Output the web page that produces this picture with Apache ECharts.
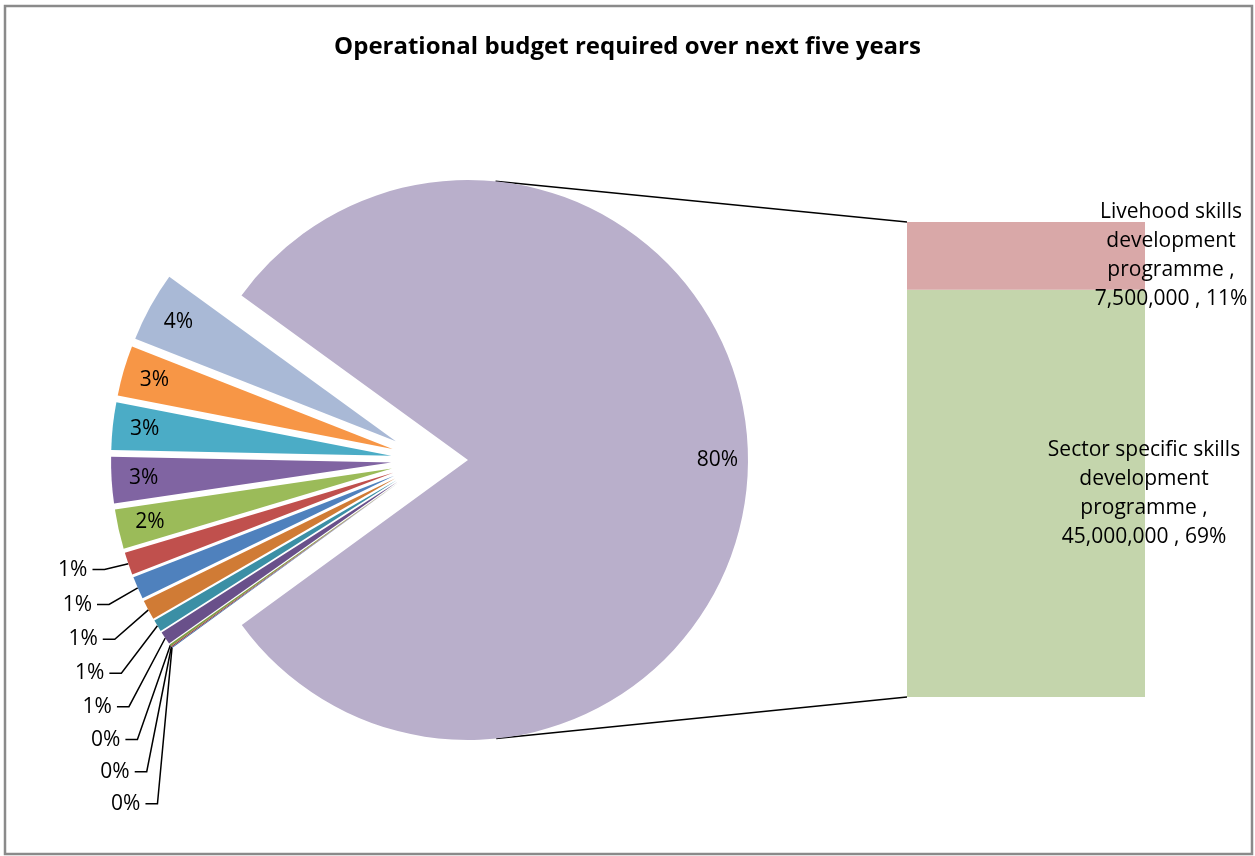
<!DOCTYPE html>
<html>
<head>
<meta charset="utf-8">
<script src="https://cdn.jsdelivr.net/npm/echarts@6/dist/echarts.min.js"></script>
<style>html,body{margin:0;padding:0;background:#fff}#main{width:1255px;height:856px}</style>
</head>
<body>
<div id="main"></div>
<script>
// ---- data ----
const titleText = 'Operational budget required over next five years';
const smallCats = ['Item 1','Item 2','Item 3','Item 4','Item 5','Item 6','Item 7','Item 8','Item 9','Item 10','Item 11','Item 12','Item 13'];
const smallValues = [2650000, 1900000, 1800000, 1750000, 1500000, 850000, 850000, 750000, 450000, 500000, 80000, 40000, 30000];
const otherName = 'Other';
const barCats = ['Sector specific skills development programme', 'Livehood skills development programme'];
const barValues = [45000000, 7500000];

// ---- styles / layout ----
const smallColors = ['#A9B9D6','#F79646','#4BACC6','#8064A2','#9BBB59','#C0504D','#4F81BD','#D07B35','#3B8FA5','#69508A','#7E9D45','#A03F3C','#3D6BA3'];
const otherColor = '#B9AFCB';
const barColors = ['#C4D5AC', '#D9A8A8'];
const FONT = 'Open Sans';
const LABEL_SIZE = 21;
const CX = 468, CY = 460, R = 280;
const SHIFT = 38, EXPLODE = 39;
const G_LEFT = 907, G_RIGHT = 1145, G_TOP = 222, G_BOTTOM = 697;
const nInside = 5;
const barLabelWidths = [205, 160];
const barLabelOffsets = [-1, 26];

const otherTotal = barValues.reduce((a, b) => a + b, 0);
const grandTotal = otherTotal + smallValues.reduce((a, b) => a + b, 0);
const T = 'rgba(0,0,0,0)';
const pct = v => Math.round(v / grandTotal * 100) + '%';

// word wrap on spaces only (keeps numbers like 7,500,000 intact)
const ctx = document.createElement('canvas').getContext('2d');
ctx.font = LABEL_SIZE + 'px "' + FONT + '"';
function wrap(text, maxW) {
  const words = text.split(' ');
  const lines = [];
  let cur = '';
  words.forEach(w => {
    const test = cur ? cur + ' ' + w : w;
    if (cur && ctx.measureText(test).width > maxW) { lines.push(cur); cur = w; }
    else cur = test;
  });
  if (cur) lines.push(cur);
  return lines.join('\n');
}

// Series A: big "other" slice at true center
const dataA = smallCats.map((c, i) => ({ name: c, value: smallValues[i], itemStyle: { color: T } }))
  .concat([{ name: otherName, value: otherTotal, itemStyle: { color: otherColor } }]);

// Series B: exploded small slices
const dataB = smallCats.map((c, i) => ({
  name: c, value: smallValues[i], selected: true,
  itemStyle: { color: smallColors[i] },
  label: { show: i >= nInside },
  labelLine: { show: i >= nInside }
})).concat([{ name: otherName, value: otherTotal, selected: false, itemStyle: { color: T }, label: { show: false }, labelLine: { show: false } }]);

// Series C: label ring for larger small slices
const dataC = smallCats.map((c, i) => ({
  name: c, value: smallValues[i], selected: true, itemStyle: { color: T },
  label: { show: i < nInside }
})).concat([{ name: otherName, value: otherTotal, selected: false, itemStyle: { color: T }, label: { show: false } }]);

// Series D: label ring for big slice
const dataD = smallCats.map((c, i) => ({ name: c, value: smallValues[i], itemStyle: { color: T }, label: { show: false } }))
  .concat([{ name: otherName, value: otherTotal, itemStyle: { color: T }, label: { show: true } }]);

const labelFmt = p => pct(p.value);
const baseLabel = { fontFamily: FONT, fontSize: LABEL_SIZE, color: '#000', formatter: labelFmt };

// tangent connector lines from bar corners to circle
function tangent(px, py, upper) {
  const dx = px - CX, dy = py - CY;
  const d = Math.sqrt(dx * dx + dy * dy);
  const a = Math.atan2(dy, dx);
  const b = Math.acos(R / d);
  const t = upper ? a - b : a + b;
  return [CX + R * Math.cos(t), CY + R * Math.sin(t)];
}
const tTop = tangent(G_LEFT, G_TOP, true);
const tBot = tangent(G_LEFT, G_BOTTOM, false);

const commonPie = { type: 'pie', startAngle: 144, clockwise: false, animation: false, emphasis: { disabled: true }, minAngle: 0, avoidLabelOverlap: true };

function barSeries(i) {
  return {
    type: 'bar', name: barCats[i], stack: 'bar', data: [barValues[i]], barWidth: '100%', barCategoryGap: 0,
    itemStyle: { color: barColors[i] }, silent: true,
    label: {
      show: true, position: ['100%', '50%'], offset: [barLabelOffsets[i], 0], align: 'center', verticalAlign: 'middle',
      lineHeight: 29, fontFamily: FONT, fontSize: LABEL_SIZE, color: '#000',
      formatter: p => wrap(p.seriesName + ' , ' + p.value.toLocaleString('en-US') + ' , ' + pct(p.value), barLabelWidths[i])
    }
  };
}

const option = {
  animation: false,
  title: {
    text: titleText, left: 'center', top: 30,
    textStyle: { fontFamily: FONT, fontSize: 24, fontWeight: 'bold', color: '#000' }
  },
  grid: { left: G_LEFT, right: 1255 - G_RIGHT, top: G_TOP, bottom: 856 - G_BOTTOM },
  xAxis: { type: 'category', data: [otherName], show: false },
  yAxis: { type: 'value', min: 0, max: otherTotal, show: false },
  graphic: [
    { type: 'rect', shape: { x: 5, y: 6, width: 1247, height: 848 }, style: { fill: null, stroke: '#8a8a8a', lineWidth: 2.5 }, silent: true },
    { type: 'line', shape: { x1: tTop[0], y1: tTop[1], x2: G_LEFT, y2: G_TOP }, style: { stroke: '#000', lineWidth: 1.5 }, silent: true },
    { type: 'line', shape: { x1: tBot[0], y1: tBot[1], x2: G_LEFT, y2: G_BOTTOM }, style: { stroke: '#000', lineWidth: 1.5 }, silent: true }
  ],
  series: [
    Object.assign({}, commonPie, {
      name: 'A', center: [CX, CY], radius: R, silent: true, label: { show: false }, labelLine: { show: false }, data: dataA
    }),
    Object.assign({}, commonPie, {
      name: 'B', center: [CX - SHIFT, CY], radius: R, silent: true,
      selectedMode: 'multiple', selectedOffset: EXPLODE,
      label: Object.assign({ position: 'outside', lineHeight: 30 }, baseLabel),
      labelLine: { length: 18, length2: 12, lineStyle: { color: '#000', width: 1.5 } },
      data: dataB
    }),
    Object.assign({}, commonPie, {
      name: 'C', center: [CX - SHIFT, CY], radius: [0.75 * R, R], silent: true,
      selectedMode: 'multiple', selectedOffset: EXPLODE,
      label: Object.assign({ position: 'inside' }, baseLabel), labelLine: { show: false },
      data: dataC
    }),
    Object.assign({}, commonPie, {
      name: 'D', center: [CX, CY], radius: [0.76 * R, R], silent: true,
      label: Object.assign({ position: 'inside' }, baseLabel), labelLine: { show: false },
      data: dataD
    }),
    barSeries(0),
    barSeries(1)
  ]
};

const chart = echarts.init(document.getElementById('main'), null, { renderer: 'canvas' });
chart.setOption(option);
</script>
</body>
</html>
